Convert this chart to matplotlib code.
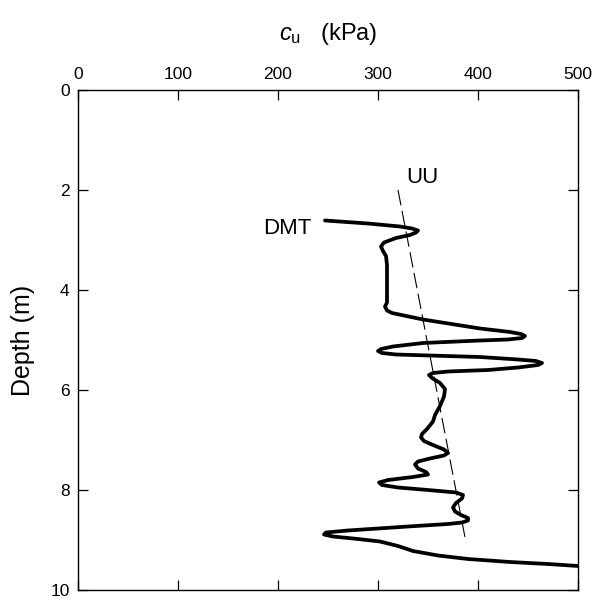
import matplotlib
matplotlib.use("Agg")
import matplotlib.pyplot as plt

plt.rcParams['font.family'] = ['Liberation Sans', 'DejaVu Sans']
plt.rcParams['mathtext.fontset'] = 'custom'
plt.rcParams['mathtext.rm'] = 'Liberation Sans'
plt.rcParams['mathtext.it'] = 'Liberation Sans:italic'

# DMT profile (cu in kPa vs depth in m)
dmt_cu = [247, 290, 322, 334, 340, 338, 332, 318, 306, 303, 305, 308, 309, 309,
          309, 307, 309, 314, 345, 402, 432, 443, 447, 444, 430, 402, 345, 315,
          303, 300, 304, 318, 402, 440, 458, 464, 460, 440, 410, 370, 355, 351,
          354, 362, 367, 366, 362, 357, 355, 349, 344, 343, 346, 355, 366, 370,
          366, 352, 340, 337, 340, 348, 350, 335, 310, 301, 304, 320, 350, 378,
          385, 384, 378, 375, 377, 383, 390, 390, 384, 370, 330, 270, 248, 246,
          255, 280, 302, 320, 335, 360, 390, 432, 470, 500]
dmt_z = [2.61, 2.67, 2.73, 2.77, 2.81, 2.85, 2.9, 2.96, 3.05, 3.13, 3.22, 3.32, 3.5, 3.9,
         4.25, 4.33, 4.41, 4.46, 4.59, 4.77, 4.84, 4.88, 4.92, 4.96, 4.99, 5.01, 5.06, 5.13,
         5.18, 5.22, 5.26, 5.29, 5.34, 5.39, 5.42, 5.46, 5.5, 5.55, 5.6, 5.63, 5.66, 5.7,
         5.76, 5.86, 5.98, 6.13, 6.32, 6.5, 6.63, 6.78, 6.88, 6.95, 7.02, 7.1, 7.19, 7.26,
         7.31, 7.37, 7.43, 7.49, 7.57, 7.64, 7.69, 7.74, 7.8, 7.85, 7.9, 7.95, 8.0, 8.05,
         8.1, 8.17, 8.26, 8.35, 8.43, 8.5, 8.56, 8.61, 8.65, 8.68, 8.73, 8.81, 8.85, 8.89,
         8.93, 8.98, 9.03, 9.12, 9.22, 9.31, 9.38, 9.44, 9.48, 9.52]

# UU trend line
uu_cu = [320, 388]
uu_z = [2.0, 9.05]

x_ticks = [0, 100, 200, 300, 400, 500]
y_ticks = [0, 2, 4, 6, 8, 10]

fig = plt.figure(figsize=(5.93, 6.03), dpi=100)
ax = fig.add_axes([78 / 593, 13 / 603, 500 / 593, 500 / 603])

ax.plot(dmt_cu, dmt_z, color='black', lw=2.7, solid_joinstyle='round',
        solid_capstyle='round')
ax.plot(uu_cu, uu_z, color='black', lw=0.8, dashes=(14, 5))

ax.set_xlim(0, 500)
ax.set_ylim(10, 0)
ax.set_xticks(x_ticks)
ax.set_yticks(y_ticks)

ax.xaxis.tick_top()
ax.tick_params(axis='both', which='both', direction='in', length=7, width=0.9,
               labelsize=12.5, top=True, bottom=True, left=True, right=True,
               labeltop=True, labelbottom=False, pad=6)
for s in ax.spines.values():
    s.set_linewidth(1.0)

ax.set_xlabel(r'$c_\mathrm{u}$   (kPa)', fontsize=17)
ax.xaxis.set_label_position('top')
ax.xaxis.set_label_coords(0.5, 1.1)
ax.set_ylabel('Depth (m)', fontsize=18)
ax.yaxis.set_label_coords(-0.086, 0.5)

ax.text(209, 2.78, 'DMT', fontsize=16, ha='center', va='center')
ax.text(328, 1.75, 'UU', fontsize=16, ha='left', va='center')

fig.savefig('out.png', dpi=100)
